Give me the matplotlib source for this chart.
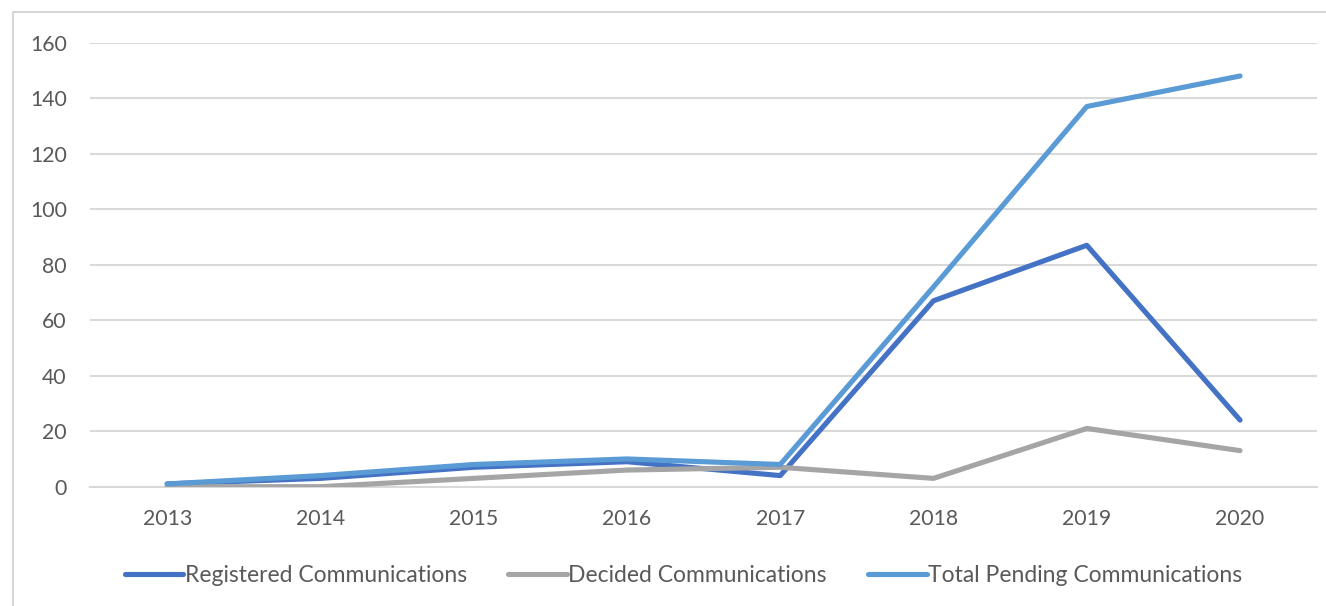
import matplotlib
matplotlib.use("Agg")
import matplotlib.pyplot as plt
from matplotlib.patches import Rectangle

years = ["2013", "2014", "2015", "2016", "2017", "2018", "2019", "2020"]
registered = [1, 3, 7, 9, 4, 67, 87, 24]
decided = [0, 0, 3, 6, 7, 3, 21, 13]
total_pending = [1, 4, 8, 10, 8, 72, 137, 148]

series_names = ["Registered Communications", "Decided Communications",
                "Total Pending Communications"]
series_colors = ["#4472C4", "#A5A5A5", "#5B9BD5"]
y_ticks = [0, 20, 40, 60, 80, 100, 120, 140, 160]

plt.rcParams["font.family"] = ["Lato", "DejaVu Sans"]
text_color = "#595959"
grid_color = "#D9D9D9"

W, H = 1326, 606
fig = plt.figure(figsize=(W / 100, H / 100), dpi=100)
fig.patch.set_facecolor("white")

# chart frame (left and top edges visible)
fig.patches.append(Rectangle((13 / W, -0.2), 1.5, 1.2 - 12 / H,
                             transform=fig.transFigure, fill=False,
                             edgecolor="#D0D0D0", linewidth=1.2))

left, right = 90.5, 1316.7
y0, y160 = 486.7, 42.7
ax = fig.add_axes([left / W, (H - y0) / H, (right - left) / W, (y0 - y160) / H])
ax.set_facecolor("none")

x = list(range(len(years)))
for vals, name, col in zip([registered, decided, total_pending], series_names, series_colors):
    ax.plot(x, vals, color=col, linewidth=3.7, solid_capstyle="round",
            solid_joinstyle="round", label=name, zorder=3)

ax.set_xlim(-0.5, len(years) - 0.5)
ax.set_ylim(0, 160)
ax.set_yticks(y_ticks)
ax.set_xticks(x)
ax.set_xticklabels(years)
ax.yaxis.grid(True, color=grid_color, linewidth=1.5)
ax.set_axisbelow(True)
for s in ["top", "right", "left"]:
    ax.spines[s].set_visible(False)
ax.spines["bottom"].set_color(grid_color)
ax.spines["bottom"].set_linewidth(1.5)
ax.tick_params(axis="both", length=0, labelsize=15.3, labelcolor=text_color)
ax.tick_params(axis="y", pad=17)
ax.tick_params(axis="x", pad=16)

leg = fig.legend(loc="center", bbox_to_anchor=(0.5155, (H - 576) / H), ncol=3,
                 frameon=False, fontsize=16.5, handlelength=2.55,
                 handletextpad=0.08, columnspacing=1.8)
for t in leg.get_texts():
    t.set_color(text_color)
for l in leg.get_lines():
    l.set_linewidth(3.7)
    l.set_solid_capstyle("round")

fig.savefig("out.png", dpi=100, facecolor="white")
